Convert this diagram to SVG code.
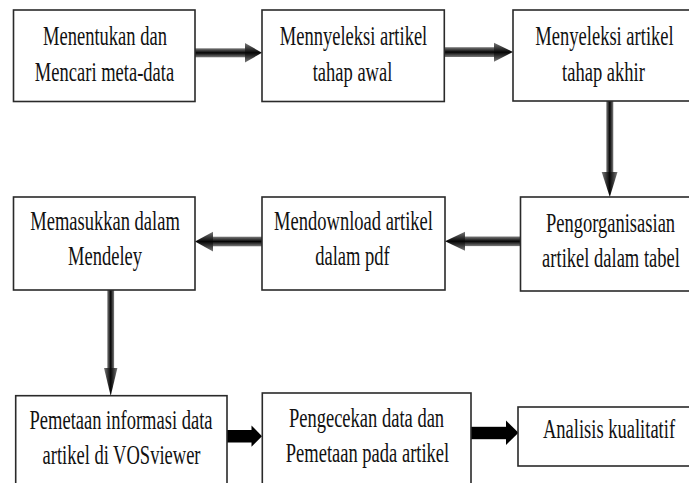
<svg xmlns="http://www.w3.org/2000/svg" width="689" height="483" viewBox="0 0 689 483">
  <defs>
    <linearGradient id="gh" x1="0" y1="0" x2="0" y2="1">
      <stop offset="0" stop-color="#7a7a7a"/>
      <stop offset="0.5" stop-color="#050505"/>
      <stop offset="1" stop-color="#7a7a7a"/>
    </linearGradient>
    <linearGradient id="gv" x1="0" y1="0" x2="1" y2="0">
      <stop offset="0" stop-color="#7a7a7a"/>
      <stop offset="0.5" stop-color="#050505"/>
      <stop offset="1" stop-color="#7a7a7a"/>
    </linearGradient>
  </defs>
  <style>
    .box { fill: #ffffff; stroke: #2a2a2a; stroke-width: 1.6; }
    .t { font-family: "Liberation Serif", "Times New Roman", serif; font-size: 27px; fill: #111111; text-anchor: middle; }
    .ah { fill: url(#gh); }
    .av { fill: url(#gv); }
    .ab { fill: #000000; }
  </style>
  <rect x="0" y="0" width="689" height="483" fill="#ffffff"/>

  <g id="connectors">
    <g id="c1"><rect class="ah" x="195" y="48.3" width="51" height="9"/><polygon class="ah" points="245,43 262,52.8 245,62.5"/></g>
    <g id="c2"><rect class="ah" x="444.5" y="47.2" width="51" height="9.8"/><polygon class="ah" points="494,42.7 513,52 494,61.7"/></g>
    <g id="c3"><rect class="av" x="606.3" y="101" width="7" height="72"/><polygon class="av" points="601.7,172 609.8,197 617.5,172"/></g>
    <g id="c4"><rect class="ah" x="464" y="236.5" width="57" height="9.6"/><polygon class="ah" points="465,231.7 445,241.3 465,250.8"/></g>
    <g id="c5"><rect class="ah" x="212" y="236.7" width="50.5" height="9.6"/><polygon class="ah" points="213,231.7 195,241.5 213,251.5"/></g>
    <g id="c6"><rect class="av" x="107.3" y="290" width="6.8" height="79"/><polygon class="av" points="104,368 110.7,396 117.4,368"/></g>
    <g id="c7"><rect class="ab" x="227" y="430" width="25.5" height="12.5"/><polygon class="ab" points="251.5,425.5 262,436.2 251.5,446.8"/></g>
    <g id="c8"><rect class="ab" x="471" y="426.8" width="36" height="12.4"/><polygon class="ab" points="506,420.5 518.5,432.8 506,445"/></g>
  </g>

  <g id="n1"><rect class="box" x="13.5" y="10" width="181.5" height="91.5"/>
    <text class="t" transform="translate(105,45) scale(0.686,1)">Menentukan dan</text>
    <text class="t" transform="translate(104.5,81) scale(0.686,1)">Mencari meta-data</text></g>
  <g id="n2"><rect class="box" x="262" y="10" width="182.3" height="91.5"/>
    <text class="t" transform="translate(353.5,45) scale(0.686,1)">Mennyeleksi artikel</text>
    <text class="t" transform="translate(352.5,81) scale(0.686,1)">tahap awal</text></g>
  <g id="n3"><rect class="box" x="513" y="10" width="177" height="91"/>
    <text class="t" transform="translate(604.5,45) scale(0.686,1)">Menyeleksi artikel</text>
    <text class="t" transform="translate(603.5,81) scale(0.686,1)">tahap akhir</text></g>
  <g id="n4"><rect class="box" x="520.5" y="197" width="169.5" height="94"/>
    <text class="t" transform="translate(610.5,232) scale(0.686,1)">Pengorganisasian</text>
    <text class="t" transform="translate(611,267) scale(0.686,1)">artikel dalam tabel</text></g>
  <g id="n5"><rect class="box" x="262" y="197" width="183" height="93"/>
    <text class="t" transform="translate(353.5,230) scale(0.686,1)">Mendownload artikel</text>
    <text class="t" transform="translate(352.5,265) scale(0.686,1)">dalam pdf</text></g>
  <g id="n6"><rect class="box" x="13.5" y="197" width="181.5" height="93"/>
    <text class="t" transform="translate(105,230) scale(0.686,1)">Memasukkan dalam</text>
    <text class="t" transform="translate(105,265) scale(0.686,1)">Mendeley</text></g>
  <g id="n7"><rect class="box" x="15.7" y="395.7" width="211.3" height="90"/>
    <text class="t" transform="translate(121,429) scale(0.686,1)">Pemetaan informasi data</text>
    <text class="t" transform="translate(121.5,464) scale(0.686,1)">artikel di VOSviewer</text></g>
  <g id="n8"><rect class="box" x="262.3" y="393" width="208.7" height="92"/>
    <text class="t" transform="translate(366.5,427) scale(0.686,1)">Pengecekan data dan</text>
    <text class="t" transform="translate(367.5,462) scale(0.686,1)">Pemetaan pada artikel</text></g>
  <g id="n9"><rect class="box" x="518" y="407" width="172" height="59"/>
    <text class="t" transform="translate(609,438) scale(0.686,1)">Analisis kualitatif</text></g>
</svg>
